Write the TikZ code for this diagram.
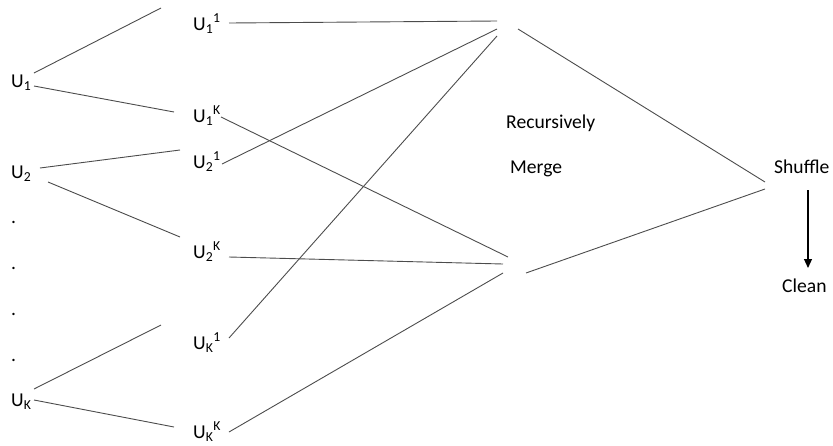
\documentclass[tikz,border=0pt]{standalone}
\usepackage{fontspec}
\setmainfont{Carlito}
\usetikzlibrary{arrows.meta}
\begin{document}
\begin{tikzpicture}[x=1pt,y=-1pt,
  lbl/.style={anchor=base west, inner sep=0pt, font=\fontsize{19.6}{23}\selectfont},
  ln/.style={draw=black!70, line width=0.9pt},
  arr/.style={draw=black, line width=1.2pt, -{Triangle[length=9pt,width=8pt]}}]
\useasboundingbox (0,0) rectangle (833,445);
% labels
\node[lbl] (u1) at (11,87) {U\textsubscript{1}};
\node[lbl] (u2) at (11,178) {U\textsubscript{2}};
\node[lbl] (d1) at (11,223) {.};
\node[lbl] (d2) at (11,269) {.};
\node[lbl] (d3) at (11,315) {.};
\node[lbl] (d4) at (11,361) {.};
\node[lbl] (uk) at (11,406) {U\textsubscript{K}};
\node[lbl] (u11) at (193,30) {U\textsubscript{1}\textsuperscript{1}};
\node[lbl] (u1k) at (193,122) {U\textsubscript{1}\textsuperscript{K}};
\node[lbl] (u21) at (193,168) {U\textsubscript{2}\textsuperscript{1}};
\node[lbl] (u2k) at (193,258) {U\textsubscript{2}\textsuperscript{K}};
\node[lbl] (uk1) at (193,349) {U\textsubscript{K}\textsuperscript{1}};
\node[lbl] (ukk) at (193,438) {U\textsubscript{K}\textsuperscript{K}};
\node[lbl] (rec) at (506,128) {Recursively};
\node[lbl] (mrg) at (510,173) {Merge};
\node[lbl] (shf) at (774,173) {Shuffle};
\node[lbl] (cln) at (782,292) {Clean};
% connector end points
\coordinate (a1) at (34,73);   \coordinate (b1) at (161,8);
\coordinate (a2) at (34,86);   \coordinate (b2) at (174,112);
\coordinate (a3) at (40,168);  \coordinate (b3) at (180,150);
\coordinate (a4) at (48,182);  \coordinate (b4) at (180,237);
\coordinate (a5) at (34,389);  \coordinate (b5) at (161,325);
\coordinate (a6) at (34,400);  \coordinate (b6) at (174,427);
\coordinate (c1) at (229,23);  \coordinate (m1) at (497,21);
\coordinate (c2) at (221,117); \coordinate (m2) at (508,257);
\coordinate (c3) at (222,164); \coordinate (m3) at (497,29);
\coordinate (c4) at (229,257); \coordinate (m4) at (503,264);
\coordinate (c5) at (229,338); \coordinate (m5) at (497,36);
\coordinate (c6) at (229,432); \coordinate (m6) at (503,273);
\coordinate (t1) at (518,29);  \coordinate (s1) at (765,182);
\coordinate (t2) at (526,273); \coordinate (s2) at (765,189);
\coordinate (ar1) at (808,190); \coordinate (ar2) at (808,268);
% connectors
\draw[ln] (a1) -- (b1);
\draw[ln] (a2) -- (b2);
\draw[ln] (a3) -- (b3);
\draw[ln] (a4) -- (b4);
\draw[ln] (a5) -- (b5);
\draw[ln] (a6) -- (b6);
\draw[ln] (c1) -- (m1);
\draw[ln] (c2) -- (m2);
\draw[ln] (c3) -- (m3);
\draw[ln] (c4) -- (m4);
\draw[ln] (c5) -- (m5);
\draw[ln] (c6) -- (m6);
\draw[ln] (t1) -- (s1);
\draw[ln] (t2) -- (s2);
\draw[arr] (ar1) -- (ar2);
\end{tikzpicture}
\end{document}
